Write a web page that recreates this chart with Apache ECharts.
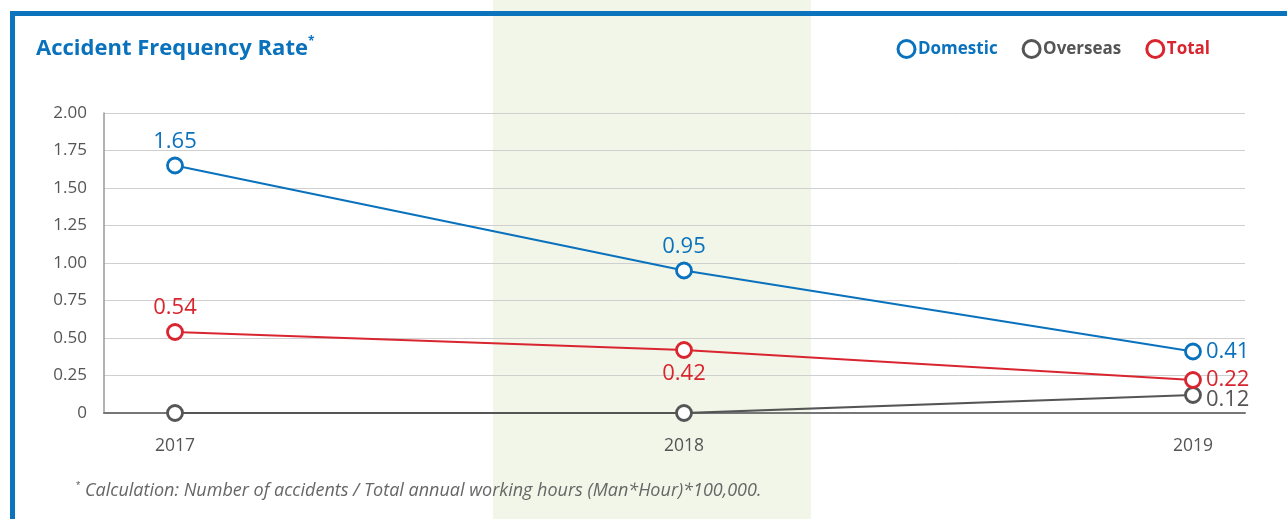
<!DOCTYPE html>
<html>
<head>
<meta charset="utf-8">
<script src="https://cdn.jsdelivr.net/npm/echarts@6/dist/echarts.min.js"></script>
<style>
  html, body { margin: 0; padding: 0; background: #fff; }
  #chart { width: 1287px; height: 519px; }
</style>
</head>
<body>
<div id="chart"></div>
<script>
// chart data
var years = [2017, 2018, 2019];
var domestic = [1.65, 0.95, 0.41];
var overseas = [0, 0, 0.12];
var total = [0.54, 0.42, 0.22];
var yTicks = [0, 0.25, 0.5, 0.75, 1, 1.25, 1.5, 1.75, 2];

var BLUE = '#0a72bd', GREY = '#555555', RED = '#d9252f';
var FONT = '"Open Sans", "Noto Sans", sans-serif';

// which points carry a value label, and where
var domesticPos = ['top', 'top', 'right'];
var totalPos = ['top', 'bottom', 'right'];
var overseasShow = [false, false, true];

function makeData(vals, pos, show, offset) {
  return vals.map(function (v, i) {
    return {
      value: [years[i], v],
      label: { show: show ? show[i] : true, position: pos[i], offset: offset || [0, 0] }
    };
  });
}

var chart = echarts.init(document.getElementById('chart'));

function lineSeries(name, color, data) {
  return {
    name: name,
    type: 'line',
    data: data,
    symbol: 'circle',
    symbolSize: 15,
    lineStyle: { color: color, width: 2.2 },
    itemStyle: { color: '#fff', borderColor: color, borderWidth: 2.8 },
    label: {
      color: color,
      fontFamily: FONT,
      fontSize: 22,
      distance: 4,
      formatter: function (p) { return p.value[1].toFixed(2); }
    },
    emphasis: { disabled: true },
    z: 3
  };
}

var option = {
  animation: false,
  backgroundColor: '#fff',
  grid: { left: 104, right: 42, top: 113, bottom: 106 },
  title: {
    text: 'Accident Frequency Rate{s|*}',
    left: 31, top: 31,
    textStyle: {
      color: BLUE, fontFamily: FONT, fontSize: 22, fontWeight: 'bold',
      rich: { s: { color: BLUE, fontSize: 12, fontWeight: 'bold', verticalAlign: 'top', padding: [0, 0, 13, 0] } }
    }
  },
  legend: {
    top: 34, right: 72,
    itemGap: 24,
    itemWidth: 17, itemHeight: 17,
    icon: 'circle',
    textStyle: { fontFamily: FONT, fontSize: 17, fontWeight: 'bold', padding: [0, 0, 0, -2] },
    data: [
      { name: 'Domestic', itemStyle: { color: '#fff', borderColor: BLUE, borderWidth: 3 }, textStyle: { color: BLUE } },
      { name: 'Overseas', itemStyle: { color: '#fff', borderColor: GREY, borderWidth: 3 }, textStyle: { color: GREY } },
      { name: 'Total', itemStyle: { color: '#fff', borderColor: RED, borderWidth: 3 }, textStyle: { color: RED } }
    ]
  },
  xAxis: {
    type: 'value',
    min: 2016.8605, max: 2019.1022,
    splitLine: { show: false },
    axisLine: { lineStyle: { color: '#777', width: 2 } },
    axisTick: { show: false },
    axisLabel: {
      color: '#555', fontFamily: FONT, fontSize: 17.5, margin: 24,
      customValues: years,
      formatter: function (v) { return String(v); }
    }
  },
  yAxis: {
    type: 'value',
    min: 0, max: 2, interval: 0.25,
    axisLine: { show: true, lineStyle: { color: '#999', width: 1.5 } },
    axisTick: { show: false },
    splitLine: { lineStyle: { color: '#cfcfcf', width: 1 } },
    axisLabel: {
      color: '#555', fontFamily: FONT, fontSize: 17, margin: 17,
      formatter: function (v) { return yTicks.indexOf(v) === 0 ? '0' : v.toFixed(2); }
    }
  },
  graphic: [
    { type: 'rect', z: -10, shape: { x: 493, y: 0, width: 318, height: 519 }, style: { fill: '#f2f6e9' } },
    { type: 'rect', z: 100, shape: { x: 10, y: 11, width: 1277, height: 5 }, style: { fill: '#0b74bd' } },
    { type: 'rect', z: 100, shape: { x: 10, y: 11, width: 5, height: 508 }, style: { fill: '#0b74bd' } },
    {
      type: 'text', z: 100, left: 76, top: 480,
      style: {
        text: '{s|*} Calculation: Number of accidents / Total annual working hours (Man*Hour)*100,000.',
        fill: '#666', fontFamily: FONT, fontSize: 18, fontStyle: 'italic',
        rich: { s: { fill: '#666', fontSize: 11, verticalAlign: 'top', padding: [0, 0, 10, 0] } }
      }
    }
  ],
  series: [
    lineSeries('Domestic', BLUE, makeData(domestic, domesticPos)),
    lineSeries('Overseas', GREY, makeData(overseas, ['right', 'right', 'right'], overseasShow, [0, 5])),
    lineSeries('Total', RED, makeData(total, totalPos))
  ]
};

chart.setOption(option);
</script>
</body>
</html>
